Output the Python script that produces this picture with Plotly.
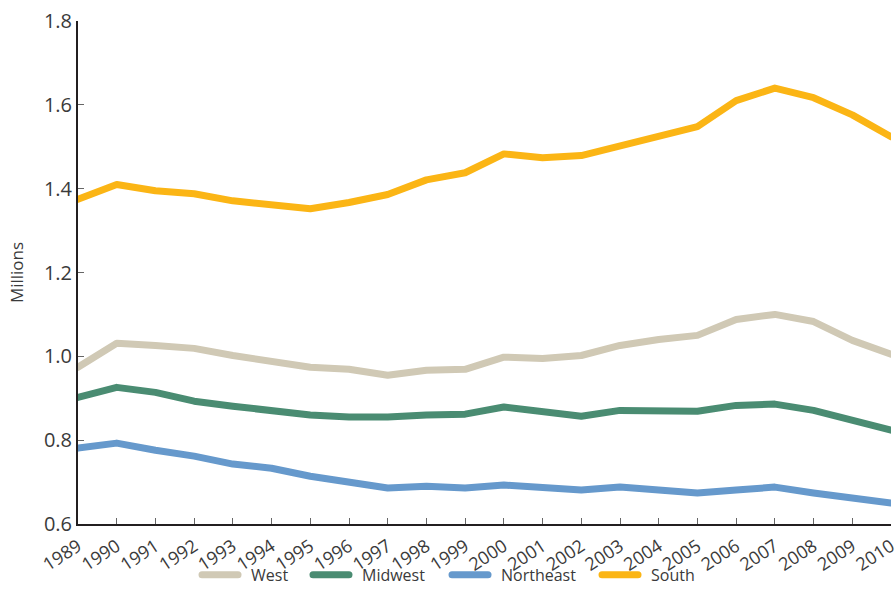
import plotly.graph_objects as go

years = list(range(1989, 2011))
west = [0.974, 1.031, 1.026, 1.019, 1.002, 0.986, 0.974, 0.969, 0.955, 0.967, 0.969,
        0.998, 0.995, 1.002, 1.026, 1.040, 1.050, 1.088, 1.100, 1.083, 1.038, 1.005]
midwest = [0.902, 0.926, 0.914, 0.893, 0.881, 0.869, 0.860, 0.855, 0.855, 0.860, 0.862,
           0.879, 0.869, 0.857, 0.871, 0.871, 0.869, 0.883, 0.886, 0.871, 0.848, 0.824]
northeast = [0.781, 0.793, 0.776, 0.762, 0.743, 0.733, 0.714, 0.702, 0.686, 0.690, 0.686,
             0.693, 0.686, 0.681, 0.688, 0.679, 0.674, 0.681, 0.688, 0.674, 0.662, 0.650]
south = [1.375, 1.410, 1.395, 1.388, 1.371, 1.362, 1.352, 1.367, 1.386, 1.421, 1.438,
         1.483, 1.474, 1.479, 1.502, 1.526, 1.548, 1.610, 1.640, 1.617, 1.576, 1.524]

series = [("West", west, "#d0c9b5"), ("Midwest", midwest, "#4a8c72"),
          ("Northeast", northeast, "#6699cc"), ("South", south, "#fbb515")]
legend_ids = ["legend", "legend2", "legend3", "legend4"]
legend_x = [0.1464, 0.2829, 0.4539, 0.6384]

fig = go.Figure()
for (name, vals, color), lid in zip(series, legend_ids):
    fig.add_trace(go.Scatter(x=years, y=vals, name=name, mode="lines", cliponaxis=False,
                             legend=lid, line=dict(color=color, width=7)))

legend_common = dict(orientation="h", xanchor="left", y=-0.101, yanchor="middle",
                     bgcolor="rgba(0,0,0,0)", itemwidth=44, font=dict(size=16))
legends = {lid: dict(legend_common, x=lx) for lid, lx in zip(legend_ids, legend_x)}

fig.update_layout(
    width=895, height=611,
    margin=dict(l=78, r=4, t=21, b=87),
    paper_bgcolor="white", plot_bgcolor="white",
    font=dict(family="Open Sans", color="#3a3a3a", size=18),
    showlegend=True,
    xaxis=dict(range=[1989, 2010], tickmode="array", tickvals=years,
               ticktext=[str(y) for y in years], tickangle=-33, automargin=False,
               ticklabeloverflow="allow", ticklabelstandoff=3,
               showgrid=False, zeroline=False, showline=True, linecolor="#231f20",
               linewidth=2, ticks="inside", ticklen=6, tickcolor="#666666",
               tickfont=dict(size=18)),
    yaxis=dict(range=[0.6, 1.8], dtick=0.2, tickformat=".1f", automargin=False,
               showgrid=False, zeroline=False, showline=True, linecolor="#231f20",
               linewidth=2, ticks="inside", ticklen=6, tickcolor="#666666",
               title=dict(text="Millions", font=dict(size=17), standoff=16),
               tickfont=dict(size=20)),
    **legends,
)

post = (
    "document.body.style.margin='0';document.body.style.overflow='hidden';"
    "var s=document.createElement('style');"
    "s.textContent='.js-line{stroke-linecap:round;stroke-linejoin:round;}"
    " .legendlines .js-line{stroke-dasharray:36 300;}';"
    "document.head.appendChild(s);"
)
fig.write_html("out.html", config={"displayModeBar": False}, post_script=post)
